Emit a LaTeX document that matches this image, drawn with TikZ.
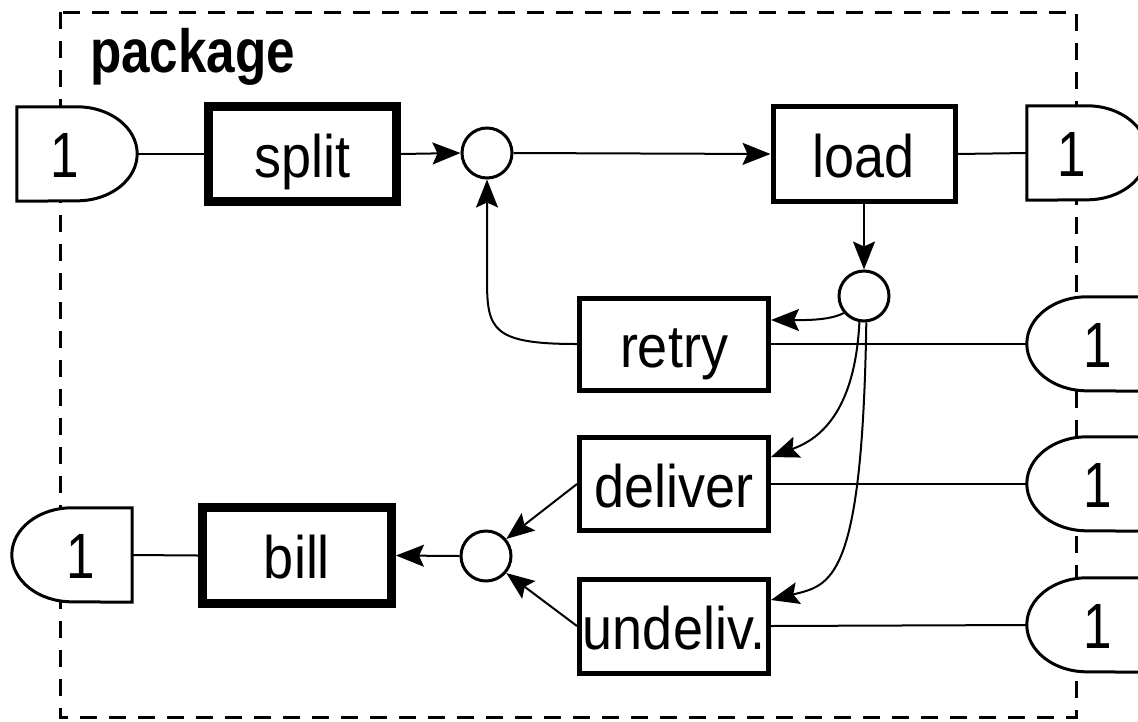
\documentclass[tikz,border=0pt]{standalone}
\usepackage{fontspec}
\setmainfont{Liberation Sans}
\usepackage{graphicx}
\usetikzlibrary{arrows.meta,calc}
\newcommand{\narrow}[1]{\scalebox{0.9}[1]{#1}}
\begin{document}
\begin{tikzpicture}[x=1pt,y=-1pt,
  box/.style={draw,rectangle,inner sep=0pt,text height=50pt,text depth=4pt,
    font=\fontsize{60}{60}\selectfont,line width=5pt},
  thickbox/.style={box,line width=9pt},
  junc/.style={draw,circle,minimum size=50pt,inner sep=0pt,line width=3pt},
  port/.style={rectangle,inner sep=0pt,minimum width=120pt,minimum height=94pt},
  portline/.style={draw,line width=3pt,fill=white},
  portlab/.style={inner sep=0pt,text height=50pt,text depth=4pt,font=\fontsize{64}{64}\selectfont},
  conn/.style={line width=2pt},
  arr/.style={conn,-{Stealth[length=28pt,width=22pt,inset=5pt]}},
  frame/.style={line width=3pt,dash pattern=on 17pt off 12pt}
]
\useasboundingbox (0,0) rectangle (1138,721);
\clip (0,0) rectangle (1138,721);

% frame
\draw[frame] (60,12) rectangle (1076,717);
\node[anchor=base west,inner sep=0pt,font=\fontsize{61}{61}\selectfont\bfseries] (pkg) at (90,72) {\scalebox{0.84}[1]{package}};

% ports (outlines)
\node[port] (p1) at (77,154) {};
\node[port] (p2) at (1087,153) {};
\node[port] (p3) at (1087,344) {};
\node[port] (p4) at (1087,484) {};
\node[port] (p5) at (1087,625) {};
\node[port] (p6) at (72,555) {};

% boxes
\node[thickbox,minimum width=188pt,minimum height=95pt] (split) at (302.5,154) {\narrow{split}};
\node[box,minimum width=182pt,minimum height=95pt] (load) at (864,154) {\narrow{load}};
\node[box,minimum width=189pt,minimum height=92pt] (retry) at (674,344) {\narrow{retry}};
\node[box,minimum width=189pt,minimum height=93pt] (deliver) at (674,484) {\narrow{deliver}};
\node[box,minimum width=189pt,minimum height=94pt] (undeliv) at (674,626) {\narrow{undeliv.}};
\node[thickbox,minimum width=189pt,minimum height=96pt] (bill) at (297,555.5) {\narrow{bill}};

% junctions
\node[junc] (c1) at (487,153) {};
\node[junc] (c2) at (864,296) {};
\node[junc] (c3) at (486,556) {};

% connectors
\draw[conn] (p1.east) -- (split.west);
\draw[arr] (split.east) -- (c1.west);
\draw[arr] (c1.east) -- (load.west);
\draw[conn] (load.east) -- (p2.west);
\draw[arr] (load.south) -- (c2.north);
\draw[arr] (c2.220) .. controls +(-15,8) and +(30,0) .. ($(retry.east)+(0,-24)$);
\draw[arr] (retry.west) .. controls +(-85,0) and +(0,50) .. ($(c1.south)+(0,100)$) -- (c1.south);
\draw[arr] (c2.-100) .. controls +(-5,100) and +(40,-15) .. ($(deliver.east)+(0,-27)$);
\draw[arr] (c2.-85) .. controls +(-4,260) and +(60,-15) .. ($(undeliv.east)+(0,-26)$);
\draw[conn] (retry.east) -- (p3.west);
\draw[conn] (deliver.east) -- (p4.west);
\draw[conn] (undeliv.east) -- (p5.west);
\draw[arr] (deliver.west) -- (c3.40);
\draw[arr] (undeliv.west) -- (c3.-40);
\draw[arr] (c3.west) -- (bill.east);
\draw[conn] (bill.west) -- (p6.east);

% port outlines
\path[portline] (p1.north west) -- ($(p1.north east)+(-60,0)$) arc[start angle=-90,end angle=90,x radius=60,y radius=47] -- (p1.south west) -- cycle;
\path[portline] (p2.north west) -- ($(p2.north east)+(-60,0)$) arc[start angle=-90,end angle=90,x radius=60,y radius=47] -- (p2.south west) -- cycle;
\path[portline] (p3.north east) -- ($(p3.north west)+(60,0)$) arc[start angle=-90,end angle=-270,x radius=60,y radius=47] -- (p3.south east) -- cycle;
\path[portline] (p4.north east) -- ($(p4.north west)+(60,0)$) arc[start angle=-90,end angle=-270,x radius=60,y radius=47] -- (p4.south east) -- cycle;
\path[portline] (p5.north east) -- ($(p5.north west)+(60,0)$) arc[start angle=-90,end angle=-270,x radius=60,y radius=47] -- (p5.south east) -- cycle;
\path[portline] (p6.north east) -- ($(p6.north west)+(60,0)$) arc[start angle=-90,end angle=-270,x radius=60,y radius=47] -- (p6.south east) -- cycle;

% port labels
\node[portlab] (p1t) at (65,154) {\scalebox{0.8}[1]{1}};
\node[portlab] (p2t) at (1072,153) {\scalebox{0.8}[1]{1}};
\node[portlab] (p3t) at (1098,344) {\scalebox{0.8}[1]{1}};
\node[portlab] (p4t) at (1098,484) {\scalebox{0.8}[1]{1}};
\node[portlab] (p5t) at (1098,625) {\scalebox{0.8}[1]{1}};
\node[portlab] (p6t) at (81,555) {\scalebox{0.8}[1]{1}};
\end{tikzpicture}
\end{document}
